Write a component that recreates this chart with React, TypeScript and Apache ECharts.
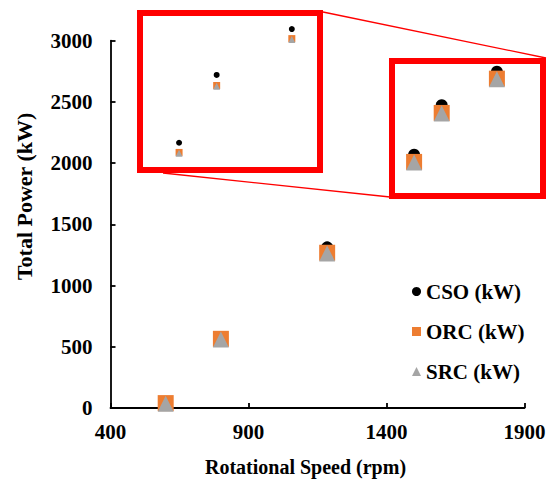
import React, { useEffect, useRef } from "react";
import * as echarts from "echarts";

const speeds = [600, 800, 1185, 1500, 1600, 1800];
const csoPower = [45, 575, 1312, 2068, 2473, 2747];
const orcPower = [40, 565, 1268, 2010, 2410, 2690];
const srcPower = [35, 560, 1262, 2005, 2405, 2685];
const seriesNames = ["CSO (kW)", "ORC (kW)", "SRC (kW)"];
const seriesColors = ["#000000", "#ED7D31", "#A5A5A5"];
const seriesIcons = ["circle", "rect", "triangle"];
const insetMinSpeed = 1500;

const FONT = "Liberation Serif";

export default function App() {
  const ref = useRef<HTMLDivElement>(null);
  useEffect(() => {
    if (!ref.current) return;
    const chart = echarts.init(ref.current, null, { renderer: "svg" });
    const powers = [csoPower, orcPower, srcPower];
    const mainSizes = [12, 16, 16];
    const insetSizes = [6, 7, 7];
    const mainSeries = powers.map((p, i) => ({
      type: "scatter",
      name: seriesNames[i],
      xAxisIndex: 0,
      yAxisIndex: 0,
      symbol: seriesIcons[i],
      symbolSize: mainSizes[i],
      itemStyle: { color: seriesColors[i], opacity: 1 },
      emphasis: { disabled: true },
      data: speeds.map((s, j) => [s, p[j]]),
      z: 2 + i,
    }));
    const insetSeries = powers.map((p, i) => ({
      type: "scatter",
      name: seriesNames[i],
      xAxisIndex: 1,
      yAxisIndex: 1,
      symbol: seriesIcons[i],
      symbolSize: insetSizes[i],
      itemStyle: { color: seriesColors[i], opacity: 1 },
      emphasis: { disabled: true },
      data: speeds.map((s, j) => [s, p[j]]).filter((d) => d[0] >= insetMinSpeed),
      z: 2 + i,
    }));
    const axisLabelStyle = { color: "#000", fontFamily: FONT, fontWeight: "bold", fontSize: 21 };
    const plain = (v: number) => String(v);
    chart.setOption({
      animation: false,
      backgroundColor: "#fff",
      grid: [
        { left: 110.5, right: 28.5, top: 40.7, bottom: 73.5, containLabel: false },
        { left: 143, top: 16, width: 174, height: 151, containLabel: false },
      ],
      xAxis: [
        {
          type: "value",
          gridIndex: 0,
          min: 400,
          max: 1900,
          interval: 500,
          splitLine: { show: false },
          axisLine: { show: true, lineStyle: { color: "#000", width: 1.8 } },
          axisTick: { show: true, inside: true, length: 5, lineStyle: { color: "#000", width: 1.8 } },
          axisLabel: { ...axisLabelStyle, margin: 13, formatter: plain },
          name: "Rotational Speed (rpm)",
          nameLocation: "middle",
          nameGap: 49,
          nameTextStyle: { ...axisLabelStyle, fontSize: 20, padding: [0, 24, 0, 0] },
        },
        { type: "value", gridIndex: 1, min: 1404, max: 1867, show: false },
      ],
      yAxis: [
        {
          type: "value",
          gridIndex: 0,
          min: 0,
          max: 3000,
          interval: 500,
          splitLine: { show: false },
          axisLine: { show: true, lineStyle: { color: "#000", width: 1.8 } },
          axisTick: { show: true, inside: true, length: 5, lineStyle: { color: "#000", width: 1.8 } },
          axisLabel: { ...axisLabelStyle, margin: 18, formatter: plain },
          name: "Total Power (kW)",
          nameLocation: "middle",
          nameGap: 75,
          nameTextStyle: { ...axisLabelStyle, fontSize: 22, padding: [0, 0, 0, 56] },
        },
        { type: "value", gridIndex: 1, min: 1923, max: 2825, show: false },
      ],
      legend: {
        orient: "vertical",
        left: 407,
        top: 276,
        itemWidth: 9,
        itemHeight: 9,
        itemGap: 19,
        textStyle: { color: "#000", fontFamily: FONT, fontWeight: "bold", fontSize: 21 },
        data: seriesNames.map((n, i) => ({ name: n, icon: seriesIcons[i], itemStyle: { color: seriesColors[i], opacity: 1 } })),
      },
      graphic: [
        { type: "rect", z: 100, shape: { x: 392, y: 61, width: 151, height: 135 }, style: { fill: "none", stroke: "#FF0000", lineWidth: 6 } },
        { type: "rect", z: 100, shape: { x: 140, y: 13, width: 180, height: 157 }, style: { fill: "none", stroke: "#FF0000", lineWidth: 6 } },
        { type: "line", z: 100, shape: { x1: 323, y1: 12, x2: 546, y2: 58 }, style: { stroke: "#FF0000", lineWidth: 1.3 } },
        { type: "line", z: 100, shape: { x1: 163, y1: 173, x2: 390, y2: 197 }, style: { stroke: "#FF0000", lineWidth: 1.3 } },
      ],
      series: [...mainSeries, ...insetSeries],
    });
    return () => chart.dispose();
  }, []);
  return <div ref={ref} style={{ position: "fixed", left: 0, top: 0, width: 553, height: 482 }} />;
}
